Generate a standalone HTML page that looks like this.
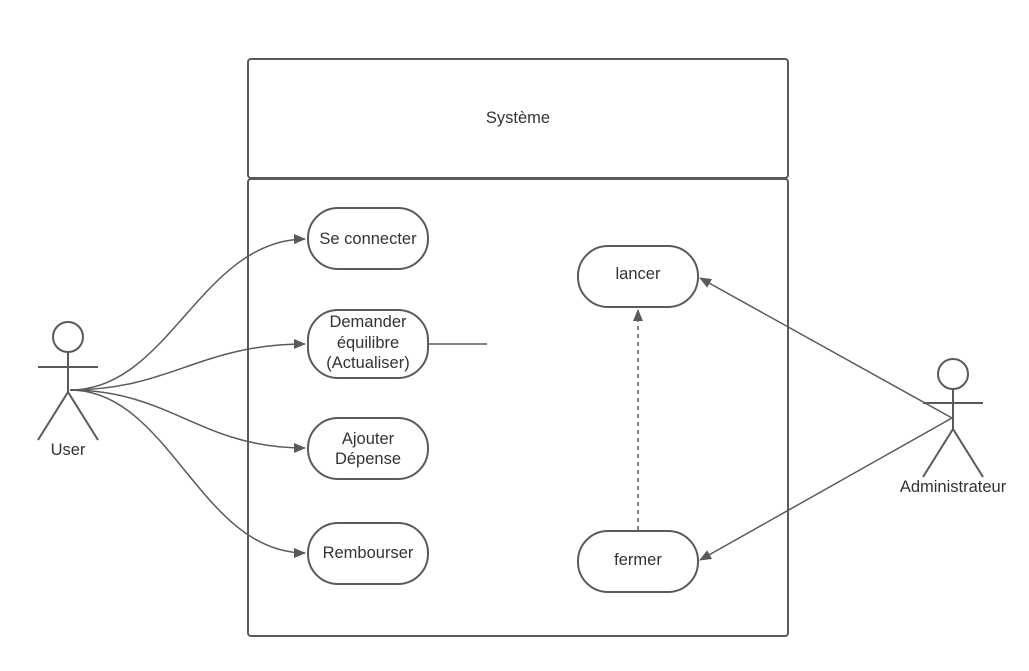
<!DOCTYPE html>
<html><head><style>html,body{margin:0;padding:0;background:#fff;}svg{display:block}</style></head>
<body>
<svg width="1029" height="671" viewBox="0 0 1029 671" xmlns="http://www.w3.org/2000/svg" font-family="Liberation Sans, sans-serif" font-size="16.5" fill="none" stroke="#5a5a5a">
<defs><marker id="a" markerWidth="12" markerHeight="10" refX="11" refY="5" orient="auto" markerUnits="userSpaceOnUse"><path d="M0,0 L12,5 L0,10 Z" fill="#5a5a5a" stroke="none"/></marker></defs>
<rect x="248" y="59" width="540" height="119" rx="3" stroke-width="2"/>
<rect x="248" y="179" width="540" height="457" rx="3" stroke-width="2"/>
<g stroke-width="2">
<rect x="308" y="208" width="120" height="61" rx="30"/>
<rect x="308" y="310" width="120" height="68" rx="30"/>
<rect x="308" y="418" width="120" height="61" rx="30"/>
<rect x="308" y="523" width="120" height="61" rx="30"/>
<rect x="578" y="246" width="120" height="61" rx="30"/>
<rect x="578" y="531" width="120" height="61" rx="30"/>
<circle cx="68" cy="337" r="15"/>
<path d="M38 367H98M68 352V392M68 392L38 440M68 392L98 440"/>
<circle cx="953" cy="374" r="15"/>
<path d="M923 403H983M953 389V429M953 429L923 477M953 429L983 477"/>
</g>
<g stroke-width="1.5" marker-end="url(#a)">
<path d="M70 390 C170 390,200 240,305 239"/>
<path d="M70 390 C170 390,200 344,305 344"/>
<path d="M70 390 C170 390,200 448,305 448"/>
<path d="M70 390 C170 390,200 553,305 553"/>
<path d="M952 418 L700 278"/>
<path d="M952 418 L700 560"/>
<path d="M638 530 L638 310" stroke-dasharray="4,4"/>
</g>
<path d="M428 344H487" stroke-width="1.5"/>
<g fill="#333" stroke="none" text-anchor="middle">
<text x="518" y="123">Système</text>
<text x="368" y="244">Se connecter</text>
<text x="368" y="327">Demander</text>
<text x="368" y="348">équilibre</text>
<text x="368" y="368">(Actualiser)</text>
<text x="368" y="444">Ajouter</text>
<text x="368" y="464">Dépense</text>
<text x="368" y="558">Rembourser</text>
<text x="638" y="279">lancer</text>
<text x="638" y="565">fermer</text>
<text x="68" y="455">User</text>
<text x="953" y="492">Administrateur</text>
</g>
</svg>
</body></html>
